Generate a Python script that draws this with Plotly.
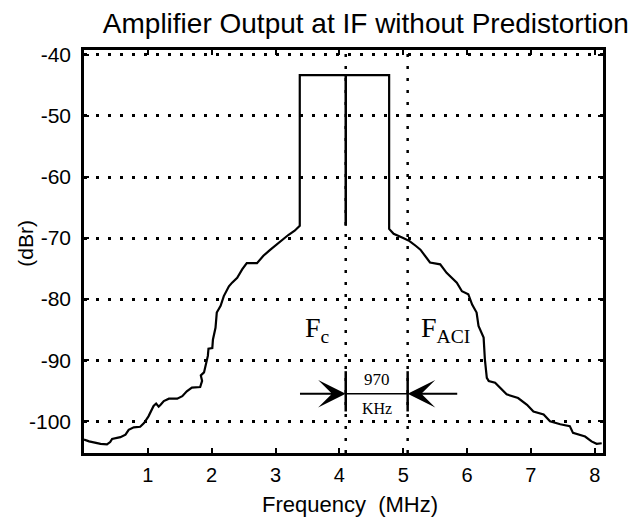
import plotly.graph_objects as go

# ---- data ----
left_freq = [0.00, 0.08, 0.26, 0.36, 0.41, 0.44, 0.57, 0.65, 0.70, 0.78, 0.88, 0.94,
             1.01, 1.09, 1.13, 1.17, 1.20, 1.25, 1.33, 1.46, 1.54, 1.61, 1.69, 1.82,
             1.85, 1.83, 1.88, 1.90, 1.94, 1.95, 2.01, 2.02, 2.06, 2.08, 2.14, 2.19,
             2.27, 2.32, 2.40, 2.48, 2.55, 2.71, 2.81, 2.92, 3.00, 3.10, 3.20, 3.30, 3.38]
left_dbr = [-103.0, -103.3, -103.7, -103.8, -103.4, -102.9, -102.6, -102.2, -101.4, -101.0,
            -100.9, -100.3, -99.2, -97.5, -97.1, -97.6, -97.3, -96.7, -96.3, -96.3, -95.9,
            -95.1, -94.5, -94.4, -93.4, -92.5, -92.0, -91.2, -89.3, -88.1, -88.0, -86.6,
            -84.7, -82.2, -81.1, -79.5, -77.9, -77.3, -76.5, -75.1, -74.1, -74.1, -72.9,
            -71.9, -71.2, -70.3, -69.5, -68.8, -68.0]

band_freq = [3.38, 3.38, 4.78, 4.78]
band_dbr = [-68.0, -43.3, -43.3, -68.5]

right_freq = [4.85, 5.00, 5.10, 5.20, 5.27, 5.42, 5.58, 5.68, 5.84, 5.92, 6.02, 6.08,
              6.15, 6.18, 6.26, 6.28, 6.31, 6.34, 6.44, 6.62, 6.80, 6.94, 7.04, 7.20,
              7.30, 7.46, 7.61, 7.66, 7.77, 7.85, 7.95, 8.03, 8.11]
right_dbr = [-69.3, -70.0, -70.5, -71.3, -71.9, -74.0, -74.3, -75.7, -77.3, -78.7, -79.2,
             -80.9, -82.2, -84.4, -86.3, -89.9, -92.9, -93.4, -93.7, -95.6, -96.2, -97.3,
             -98.4, -98.9, -100.0, -100.5, -100.8, -101.9, -102.2, -102.5, -103.3, -103.7, -103.6]

center_line_dbr = [-43.3, -68.0]          # Fc line inside the band
fc_mhz = 4.10                              # carrier frequency
faci_mhz = 5.07                            # adjacent channel frequency
spacing_label = ["970", "KHz"]
arrow_dbr = -95.5
arrow_tail = [3.36, 5.87]
bar_dbr = [-91.8, -98.4]
label_dbr = -85.0
fc_label_x = 3.66
faci_label_x = 5.67

x_ticks = [1, 2, 3, 4, 5, 6, 7, 8]
y_ticks = [-40, -50, -60, -70, -80, -90, -100]

freq = left_freq + band_freq + right_freq
dbr = left_dbr + band_dbr + right_dbr

fig = go.Figure()
fig.add_trace(go.Scatter(x=freq, y=dbr, mode="lines",
                         line=dict(color="black", width=2.2), showlegend=False,
                         hoverinfo="skip"))
fig.add_trace(go.Scatter(x=[fc_mhz, fc_mhz], y=center_line_dbr, mode="lines",
                         line=dict(color="black", width=2.5), showlegend=False,
                         hoverinfo="skip"))
# spacing bars and connecting line
for f in (fc_mhz, faci_mhz):
    fig.add_trace(go.Scatter(x=[f, f], y=bar_dbr, mode="lines",
                             line=dict(color="black", width=2.5), showlegend=False,
                             hoverinfo="skip"))
fig.add_trace(go.Scatter(x=[fc_mhz, faci_mhz], y=[arrow_dbr, arrow_dbr], mode="lines",
                         line=dict(color="black", width=1.5), showlegend=False,
                         hoverinfo="skip"))

shapes = []
for f in (fc_mhz, faci_mhz):
    shapes.append(dict(type="line", xref="x", yref="paper", x0=f, x1=f, y0=0, y1=1,
                       line=dict(color="black", width=2.5, dash="3px,9px"), layer="below"))

serif = "Liberation Serif"
sans = "Liberation Sans"
annotations = [
    dict(x=fc_mhz, y=arrow_dbr, ax=arrow_tail[0], ay=arrow_dbr, xref="x", yref="y",
         axref="x", ayref="y", showarrow=True, arrowhead=3, arrowsize=2.3,
         arrowwidth=2, arrowcolor="black", text=""),
    dict(x=faci_mhz, y=arrow_dbr, ax=arrow_tail[1], ay=arrow_dbr, xref="x", yref="y",
         axref="x", ayref="y", showarrow=True, arrowhead=3, arrowsize=2.3,
         arrowwidth=2, arrowcolor="black", text=""),
    dict(x=(fc_mhz + faci_mhz) / 2, y=arrow_dbr, xref="x", yref="y", yshift=14,
         text=spacing_label[0], showarrow=False, font=dict(family=serif, size=17, color="black")),
    dict(x=(fc_mhz + faci_mhz) / 2, y=arrow_dbr, xref="x", yref="y", yshift=-15,
         text=spacing_label[1], showarrow=False, font=dict(family=serif, size=16, color="black")),
    dict(x=fc_label_x, y=label_dbr, xref="x", yref="y", text="F<sub>c</sub>",
         showarrow=False, font=dict(family=serif, size=28, color="black")),
    dict(x=faci_label_x, y=label_dbr, xref="x", yref="y", text="F<sub>ACI</sub>",
         showarrow=False, font=dict(family=serif, size=28, color="black")),
    dict(x=(350 - 84) / 519, y=-(505 - 453.5) / 403.5, xref="paper", yref="paper",
         text="Frequency  (MHz)", showarrow=False,
         font=dict(family=sans, size=22, color="black"), yanchor="middle"),
    dict(x=-(84 - 26) / 519, y=(453.5 - 244) / 403.5, xref="paper", yref="paper",
         text="(dBr)", textangle=-90, showarrow=False,
         font=dict(family=sans, size=21, color="black"), xanchor="center", yanchor="middle"),
]

fig.update_layout(
    width=633, height=526, autosize=False,
    margin=dict(l=84, r=30, t=50, b=73),
    paper_bgcolor="white", plot_bgcolor="white",
    title=dict(text="Amplifier Output at IF without Predistortion",
               x=0.543, xref="paper", xanchor="center",
               y=1 - 23 / 526, yref="container", yanchor="middle",
               font=dict(family=sans, size=28, color="black")),
    shapes=shapes, annotations=annotations,
    xaxis=dict(range=[0, 8.13], tickvals=x_ticks, ticktext=[str(v) for v in x_ticks],
               ticks="inside", ticklen=5, tickwidth=2, tickcolor="black",
               showline=True, linewidth=2.5, linecolor="black", mirror="ticks",
               showgrid=False, zeroline=False, ticklabelstandoff=2,
               tickfont=dict(family=sans, size=20, color="black")),
    yaxis=dict(range=[-105.2, -39.2], tickvals=y_ticks, ticktext=[str(v) for v in y_ticks],
               ticks="inside", ticklen=5, tickwidth=2, tickcolor="black",
               showline=True, linewidth=2.5, linecolor="black", mirror="ticks",
               showgrid=True, gridcolor="black", gridwidth=2.5, griddash="3px,9px",
               zeroline=False, ticklabelstandoff=6,
               tickfont=dict(family=sans, size=21, color="black")),
)

fig.write_html("out.html")
